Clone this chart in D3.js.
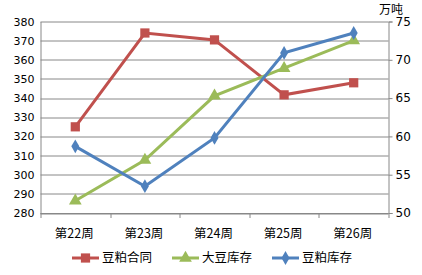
<!DOCTYPE html>
<html>
<head>
<meta charset="utf-8">
<script src="https://cdn.jsdelivr.net/npm/d3@7"></script>
<style>
  body { margin: 0; background: #fff; }
  svg { display: block; }
</style>
</head>
<body>
<svg id="chart"></svg>
<script>
// chart data
let weeks = ['第22周', '第23周', '第24周', '第25周', '第26周'];
let contractValues = [325, 374, 370.4, 341.7, 348];      // 豆粕合同, left axis
let soyStockValues = [51.6, 56.9, 65.3, 68.9, 72.5];     // 大豆库存, right axis (万吨)
let mealStockValues = [58.7, 53.5, 59.8, 70.9, 73.5];    // 豆粕库存, right axis (万吨)
let leftTicks = [280, 290, 300, 310, 320, 330, 340, 350, 360, 370, 380];
let rightTicks = [50, 55, 60, 65, 70, 75];
let seriesNames = ['豆粕合同', '大豆库存', '豆粕库存'];

let width = 422, height = 275;
let margin = { top: 21.5, bot: 62, left: 40.5, right: 33.5 };
let config = {
    margin: margin,
    bodyWidth: width - margin.left - margin.right,
    bodyHeight: height - margin.top - margin.bot
};

let svg = d3.select('#chart').attr('width', width).attr('height', height);
let body = svg.append('g')
    .attr('transform', `translate(${margin.left},${margin.top})`);

let xScale = d3.scaleBand().domain(weeks).range([0, config.bodyWidth]);
let yLeft = d3.scaleLinear().domain([280, 380]).range([config.bodyHeight, 0]);
let yRight = d3.scaleLinear().domain([50, 75]).range([config.bodyHeight, 0]);

let gridColor = '#888';

// horizontal grid
body.append('g')
    .selectAll('line')
    .data(leftTicks)
    .join('line')
    .attr('x1', 0).attr('x2', config.bodyWidth)
    .attr('y1', d => Math.round(yLeft(d)) + 0.5)
    .attr('y2', d => Math.round(yLeft(d)) + 0.5)
    .attr('stroke', gridColor)
    .attr('stroke-width', 1);

// left axis
let leftAx = body.append('g')
    .call(d3.axisLeft(yLeft).tickValues(leftTicks).tickSize(0).tickPadding(6));
leftAx.select('.domain').attr('stroke', gridColor);
leftAx.selectAll('text')
    .attr('font-family', 'DejaVu Sans, Verdana, sans-serif')
    .attr('font-size', 11)
    .attr('fill', '#000');

// right axis
let rightAx = body.append('g')
    .attr('transform', `translate(${config.bodyWidth},0)`)
    .call(d3.axisRight(yRight).tickValues(rightTicks).tickSize(4).tickPadding(3));
rightAx.select('.domain').attr('stroke', gridColor);
rightAx.selectAll('line').attr('stroke', gridColor);
rightAx.selectAll('text')
    .attr('font-family', 'DejaVu Sans, Verdana, sans-serif')
    .attr('font-size', 12)
    .attr('fill', '#000');

// bottom axis with ticks at category boundaries
let bottomAx = body.append('g')
    .attr('transform', `translate(0,${config.bodyHeight})`);
bottomAx.append('line')
    .attr('x1', 0).attr('x2', config.bodyWidth)
    .attr('y1', 0.5).attr('y2', 0.5)
    .attr('stroke', gridColor);
bottomAx.selectAll('.tick')
    .data(weeks.concat(['end']))
    .join('line')
    .attr('x1', (d, i) => Math.round(i * xScale.step()) + 0.5)
    .attr('x2', (d, i) => Math.round(i * xScale.step()) + 0.5)
    .attr('y1', 0).attr('y2', 5)
    .attr('stroke', gridColor);
bottomAx.selectAll('text')
    .data(weeks)
    .join('text')
    .attr('x', d => xScale(d) + xScale.bandwidth() / 2 - 1)
    .attr('y', 25)
    .attr('text-anchor', 'middle')
    .attr('font-family', 'Noto Sans CJK SC, sans-serif')
    .attr('font-size', 12.5)
    .text(d => d);

// unit label
svg.append('text')
    .attr('x', 391)
    .attr('y', 14)
    .attr('text-anchor', 'middle')
    .attr('font-family', 'Noto Sans CJK SC, sans-serif')
    .attr('font-size', 12)
    .text('万吨');

let series = [
    { name: seriesNames[0], values: contractValues, scale: yLeft, color: '#C0504D', marker: d3.symbolSquare, size: 85 },
    { name: seriesNames[1], values: soyStockValues, scale: yRight, color: '#9BBB59', marker: d3.symbolTriangle, size: 70 },
    { name: seriesNames[2], values: mealStockValues, scale: yRight, color: '#4F81BD', marker: d3.symbolDiamond, size: 55 }
];

let cx = i => xScale(weeks[i]) + xScale.bandwidth() / 2;

for (let s of series) {
    let line = d3.line()
        .x((d, i) => cx(i))
        .y(d => s.scale(d));
    body.append('path')
        .datum(s.values)
        .attr('d', line)
        .attr('fill', 'none')
        .attr('stroke', s.color)
        .attr('stroke-width', 3);
    body.append('g')
        .selectAll('path')
        .data(s.values)
        .join('path')
        .attr('transform', (d, i) => `translate(${cx(i)},${s.scale(d)})`)
        .attr('d', d3.symbol().type(s.marker).size(s.size))
        .attr('fill', s.color);
}

// legend
let legendX = [72, 172, 272];
let legend = svg.append('g').attr('transform', 'translate(0,258)');
series.forEach((s, i) => {
    let g = legend.append('g').attr('transform', `translate(${legendX[i]},0)`);
    g.append('line')
        .attr('x1', 0).attr('x2', 27)
        .attr('y1', 0).attr('y2', 0)
        .attr('stroke', s.color)
        .attr('stroke-width', 3);
    g.append('path')
        .attr('transform', 'translate(13.5,0)')
        .attr('d', d3.symbol().type(s.marker).size(s.size))
        .attr('fill', s.color);
    g.append('text')
        .attr('x', 30)
        .attr('y', 0)
        .attr('dy', '0.35em')
        .attr('font-family', 'Noto Sans CJK SC, sans-serif')
        .attr('font-size', 12.5)
        .text(s.name);
});
</script>
</body>
</html>
